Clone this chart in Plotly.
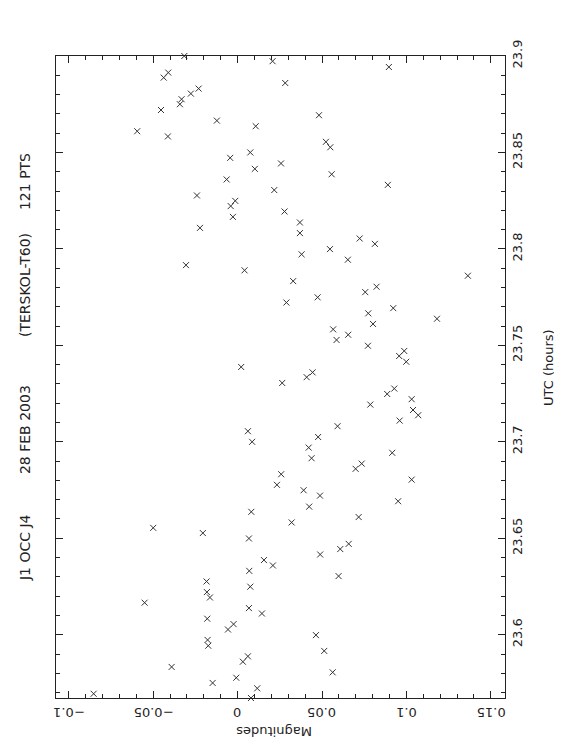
import plotly.graph_objects as go

# UTC (hours) of each measurement
utc = [23.9000, 23.8973, 23.8943, 23.8914, 23.8888, 23.8860, 23.8831, 23.8805, 23.8776, 23.8750,
       23.8720, 23.8693, 23.8665, 23.8636, 23.8610, 23.8583, 23.8555, 23.8527, 23.8500, 23.8472,
       23.8443, 23.8415, 23.8387, 23.8360, 23.8332, 23.8305, 23.8277, 23.8249, 23.8222, 23.8194,
       23.8166, 23.8137, 23.8109, 23.8082, 23.8054, 23.8026, 23.7999, 23.7972, 23.7944, 23.7916,
       23.7889, 23.7861, 23.7833, 23.7804, 23.7776, 23.7749, 23.7722, 23.7693, 23.7666, 23.7638,
       23.7611, 23.7583, 23.7555, 23.7528, 23.7498, 23.7471, 23.7445, 23.7415, 23.7388, 23.7360,
       23.7335, 23.7305, 23.7276, 23.7248, 23.7221, 23.7193, 23.7165, 23.7138, 23.7110, 23.7081,
       23.7055, 23.7025, 23.7000, 23.6970, 23.6943, 23.6915, 23.6887, 23.6860, 23.6832, 23.6804,
       23.6777, 23.6749, 23.6721, 23.6692, 23.6664, 23.6637, 23.6610, 23.6582, 23.6554, 23.6527,
       23.6499, 23.6471, 23.6444, 23.6416, 23.6387, 23.6359, 23.6331, 23.6304, 23.6276, 23.6249,
       23.6221, 23.6193, 23.6166, 23.6138, 23.6110, 23.6083, 23.6055, 23.6027, 23.5998, 23.5973,
       23.5943, 23.5916, 23.5888, 23.5860, 23.5833, 23.5805, 23.5777, 23.5750, 23.5722, 23.5694,
       23.5672]

# Magnitudes
mag = [-0.0316, 0.0207, 0.0896, -0.0411, -0.0438, 0.0282, -0.0231, -0.0277, -0.0332, -0.0342,
       -0.0454, 0.0482, -0.0123, 0.0107, -0.0595, -0.0413, 0.0523, 0.0549, 0.0075, -0.0044,
       0.0257, 0.0102, 0.0557, -0.0065, 0.0890, 0.0217, -0.0241, -0.0014, -0.0041, 0.0278,
       -0.0028, 0.0369, -0.0223, 0.0369, 0.0723, 0.0813, 0.0547, 0.0379, 0.0653, -0.0306,
       0.0041, 0.1364, 0.0329, 0.0823, 0.0756, 0.0474, 0.0289, 0.0922, 0.0774, 0.1181,
       0.0802, 0.0566, 0.0655, 0.0586, 0.0772, 0.0987, 0.0957, 0.0999, 0.0021, 0.0444,
       0.0409, 0.0264, 0.0928, 0.0886, 0.1031, 0.0786, 0.1039, 0.1070, 0.0960, 0.0592,
       0.0061, 0.0477, 0.0086, 0.0421, 0.0916, 0.0438, 0.0735, 0.0699, 0.0258, 0.1031,
       0.0233, 0.0391, 0.0488, 0.0951, 0.0424, 0.0081, 0.0717, 0.0320, -0.0500, -0.0206,
       0.0067, 0.0658, 0.0608, 0.0489, 0.0156, 0.0209, 0.0069, 0.0598, -0.0184, 0.0075,
       -0.0182, -0.0164, -0.0551, 0.0067, 0.0144, -0.0180, -0.0024, -0.0057, 0.0464, -0.0178,
       -0.0174, 0.0513, 0.0061, 0.0031, -0.0391, 0.0563, -0.0008, -0.0148, 0.0116, -0.0853,
       0.0079]

x_tickvals = [-0.1, -0.05, 0, 0.05, 0.1, 0.15]
x_ticktext = ["\u22120.1", "\u22120.05", "0", "0.05", "0.1", "0.15"]
y_tickvals = [23.6, 23.65, 23.7, 23.75, 23.8, 23.85, 23.9]
y_ticktext = ["23.6", "23.65", "23.7", "23.75", "23.8", "23.85", "23.9"]
title_parts = ["J1 OCC J4", "28 FEB 2003", "(TERSKOL-T60)", "121 PTS"]
x_label = "Magnitudes"
y_label = "UTC (hours)"

INK = "#222222"
MARK = "#333333"
FONT = "DejaVu Sans"

fig = go.Figure()
fig.add_trace(go.Scatter(
    x=mag, y=utc, mode="markers", cliponaxis=False,
    marker=dict(symbol="x-thin", size=6, line=dict(width=1, color=MARK), color=MARK),
    hoverinfo="x+y", showlegend=False,
))

axis_common = dict(
    showgrid=False, zeroline=False, showline=True, linecolor=INK, linewidth=1,
    mirror="allticks", ticks="inside", ticklen=7, tickwidth=1, tickcolor=INK,
    tickfont=dict(family=FONT, size=13, color=INK),
)

fig.update_xaxes(
    range=[-0.1076, 0.1584], tickmode="array", tickvals=x_tickvals, ticktext=x_ticktext,
    showticklabels=False,
    minor=dict(dtick=0.01, tick0=0, ticks="inside", ticklen=4, tickwidth=1, tickcolor=INK),
    **axis_common,
)
fig.update_yaxes(
    range=[23.5672, 23.9], side="right", tickmode="array", tickvals=y_tickvals, ticktext=y_ticktext,
    tickangle=-90, ticklabelstandoff=0,
    minor=dict(dtick=0.01, tick0=23.6, ticks="inside", ticklen=4, tickwidth=1, tickcolor=INK),
    **axis_common,
)

annotations = []
# upside-down tick labels for the magnitude axis, placed on the axis scale
for v, t in zip(x_tickvals, x_ticktext):
    annotations.append(dict(text=t, xref="x", yref="paper", x=v, y=-0.0234,
                            xanchor="center", yanchor="middle", textangle=180,
                            showarrow=False, font=dict(family=FONT, size=13, color=INK)))

title_y = [0.2336, 0.4174, 0.6433, 0.8037]
for txt, yp in zip(title_parts, title_y):
    annotations.append(dict(text=txt, xref="paper", yref="paper", x=-0.069, y=yp,
                            xanchor="center", yanchor="middle",
                            textangle=-90, showarrow=False,
                            font=dict(family=FONT, size=14, color=INK)))
annotations.append(dict(text=x_label, xref="paper", yref="paper", x=0.4855, y=-0.053,
                        xanchor="center", yanchor="middle",
                        textangle=180, showarrow=False,
                        font=dict(family=FONT, size=13, color=INK)))
annotations.append(dict(text=y_label, xref="paper", yref="paper", x=1.0958, y=0.514,
                        xanchor="center", yanchor="middle",
                        textangle=-90, showarrow=False,
                        font=dict(family=FONT, size=13, color=INK)))

# page body has an 8px default margin, so the figure is 8px smaller than the window
fig.update_layout(
    width=554, height=748,
    margin=dict(l=48, r=57, t=48, b=58, pad=0),
    paper_bgcolor="white", plot_bgcolor="white",
    annotations=annotations,
)

fig.write_html("out.html")
